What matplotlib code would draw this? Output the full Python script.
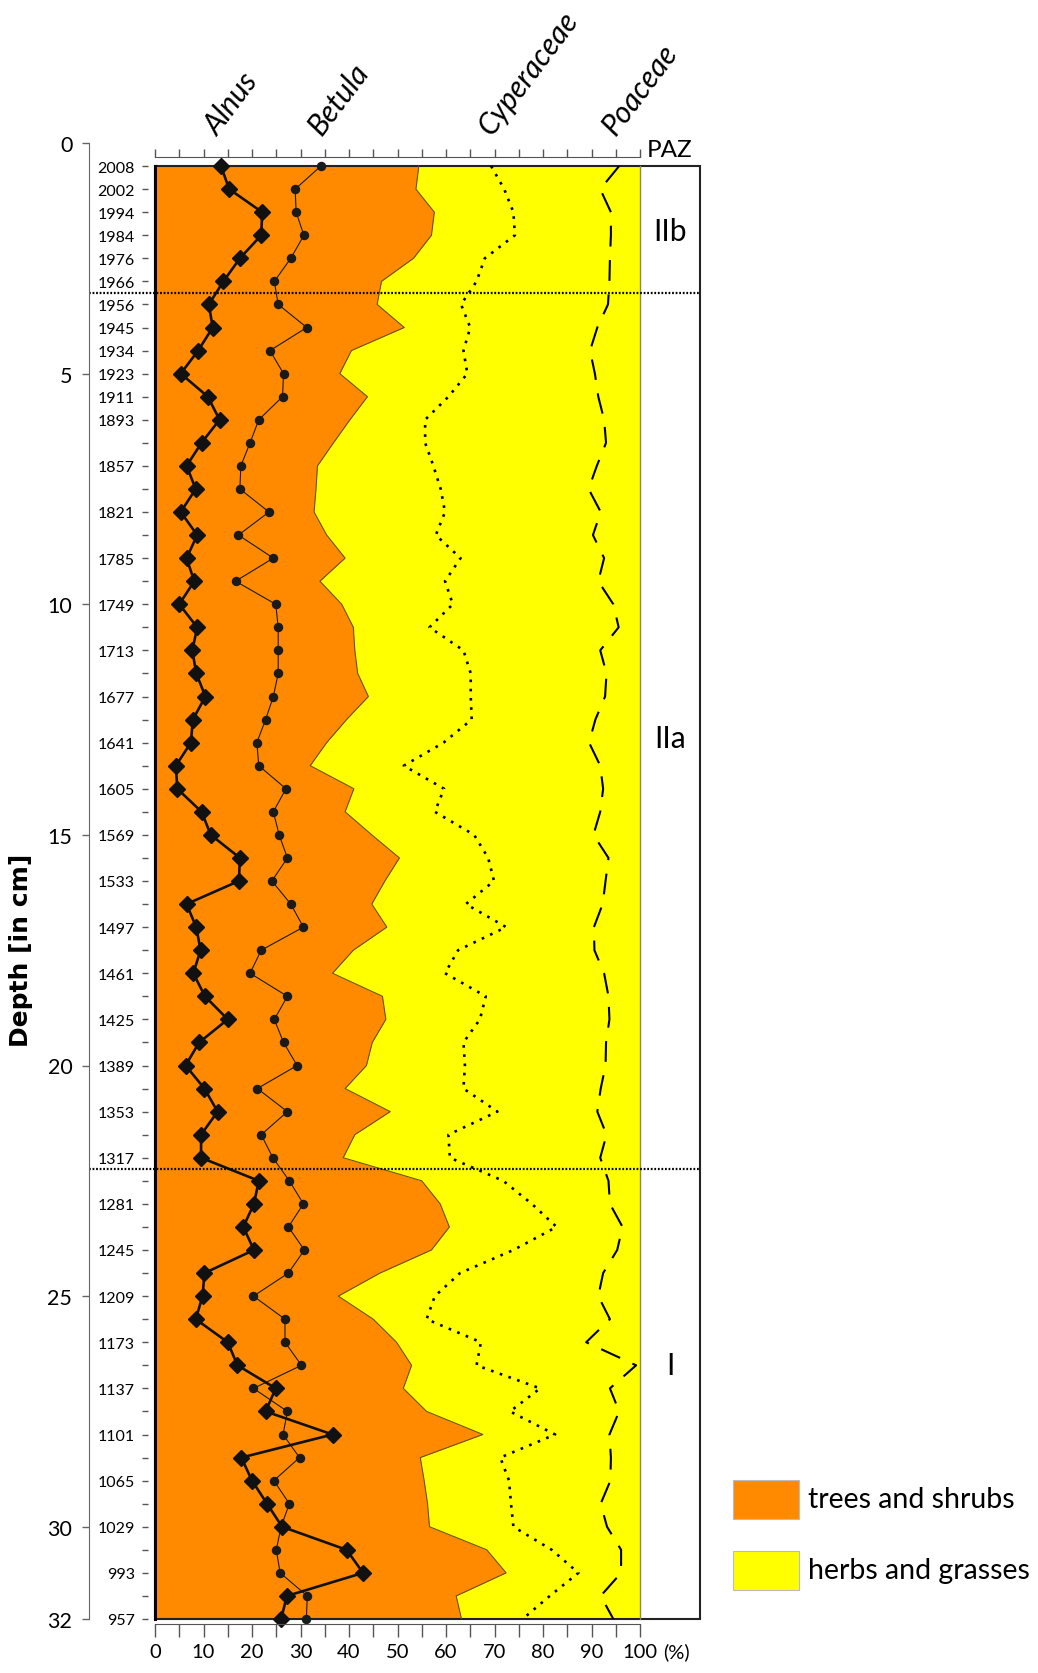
import numpy as np
import matplotlib.pyplot as plt
from matplotlib.patches import Rectangle

plt.rcParams['font.family'] = ['Lato', 'DejaVu Sans']

# sample depths (cm)
depth = [0.5, 1.0, 1.5, 2.0, 2.5, 3.0, 3.5, 4.0, 4.5, 5.0, 5.5, 6.0,
         6.5, 7.0, 7.5, 8.0, 8.5, 9.0, 9.5, 10.0, 10.5, 11.0, 11.5, 12.0,
         12.5, 13.0, 13.5, 14.0, 14.5, 15.0, 15.5, 16.0, 16.5, 17.0, 17.5, 18.0,
         18.5, 19.0, 19.5, 20.0, 20.5, 21.0, 21.5, 22.0, 22.5, 23.0, 23.5, 24.0,
         24.5, 25.0, 25.5, 26.0, 26.5, 27.0, 27.5, 28.0, 28.5, 29.0, 29.5, 30.0,
         30.5, 31.0, 31.5, 32.0]

# dated levels
year_depth = [0.5, 1.0, 1.5, 2.0, 2.5, 3.0, 3.5, 4.0, 4.5, 5.0, 5.5, 6.0,
              7, 8, 9, 10, 11, 12, 13, 14, 15, 16, 17, 18, 19, 20, 21, 22,
              23, 24, 25, 26, 27, 28, 29, 30, 31, 32]
year_label = [2008, 2002, 1994, 1984, 1976, 1966, 1956, 1945, 1934, 1923, 1911, 1893,
              1857, 1821, 1785, 1749, 1713, 1677, 1641, 1605, 1569, 1533, 1497, 1461,
              1425, 1389, 1353, 1317, 1281, 1245, 1209, 1173, 1137, 1101, 1065, 1029,
              993, 957]

alnus = [13.6, 15.3, 22.1, 21.9, 17.5, 14.1, 11.1, 11.9, 8.9, 5.3, 10.9, 13.3,
         9.6, 6.5, 8.4, 5.3, 8.7, 6.5, 8.1, 5.0, 8.7, 7.7, 8.5, 10.4,
         7.8, 7.4, 4.3, 4.6, 9.6, 11.5, 17.5, 17.3, 6.5, 8.5, 9.4, 7.9,
         10.3, 15.0, 9.1, 6.3, 10.2, 12.9, 9.5, 9.5, 21.4, 20.4, 18.2, 20.4,
         10.2, 9.8, 8.4, 15.0, 17.0, 24.9, 22.8, 36.6, 17.8, 20.0, 23.1, 26.2,
         39.5, 42.9, 27.2, 26.0]

betula = [34.2, 28.9, 29.1, 30.7, 28.0, 24.6, 25.4, 31.3, 23.7, 26.5, 26.3, 21.4,
          19.6, 17.7, 17.5, 23.5, 17.2, 24.4, 16.6, 24.9, 25.4, 25.4, 25.4, 24.4,
          22.8, 21.0, 21.4, 27.0, 24.4, 25.6, 27.3, 24.1, 28.0, 30.6, 21.9, 19.6,
          27.3, 24.6, 26.5, 29.3, 21.1, 27.3, 21.9, 24.3, 27.7, 30.6, 27.5, 30.8,
          27.5, 20.3, 26.8, 26.8, 30.2, 20.3, 27.3, 26.4, 29.8, 24.5, 27.7, 26.0,
          25.0, 25.8, 31.4, 31.2]

# cumulative curves (%)
trees = [54.4, 53.8, 57.6, 57.0, 53.3, 46.7, 45.8, 51.4, 40.5, 38.1, 43.8, 40.2,
         36.8, 33.5, 33.2, 32.8, 35.4, 39.2, 34.0, 38.5, 40.9, 41.2, 41.8, 44.0,
         39.5, 35.4, 32.0, 41.0, 39.2, 44.7, 50.4, 47.4, 44.7, 47.8, 40.9, 36.6,
         46.9, 47.6, 44.8, 43.6, 39.2, 48.5, 41.2, 38.8, 55.0, 58.8, 60.7, 57.0,
         46.4, 37.8, 45.0, 49.8, 52.9, 51.2, 56.0, 67.6, 54.7, 55.5, 56.2, 56.6,
         68.4, 72.4, 62.1, 63.2]

cyperaceae = [69.3, 72.0, 73.9, 74.2, 68.0, 66.3, 63.1, 65.0, 63.6, 64.4, 60.5, 55.7,
              55.7, 57.4, 58.9, 59.8, 57.9, 63.0, 59.8, 61.4, 56.6, 63.6, 65.1, 65.1,
              65.3, 59.5, 51.3, 59.6, 57.7, 65.8, 68.7, 69.9, 64.1, 72.4, 62.5, 59.8,
              68.2, 67.0, 63.6, 63.9, 63.6, 70.6, 60.5, 60.8, 71.8, 77.7, 82.8, 73.9,
              62.9, 57.7, 56.0, 67.2, 66.3, 79.4, 73.2, 82.5, 71.2, 73.0, 73.4, 73.9,
              81.8, 87.3, 81.4, 75.8]

poaceae = [95.7, 91.8, 94.0, 94.0, 93.8, 93.7, 93.4, 91.2, 89.7, 90.7, 91.4, 92.6,
           93.0, 91.1, 89.4, 91.9, 90.3, 92.6, 91.4, 94.5, 95.6, 91.8, 93.1, 92.8,
           90.8, 89.5, 91.8, 92.4, 91.8, 90.4, 93.5, 92.9, 92.3, 90.5, 90.6, 92.6,
           93.5, 93.7, 93.0, 92.9, 91.9, 91.2, 93.1, 91.8, 93.5, 93.8, 96.4, 95.3,
           92.4, 91.4, 93.8, 88.9, 99.2, 93.8, 95.7, 93.7, 94.0, 93.9, 91.9, 93.2,
           96.1, 96.1, 91.9, 94.5]

zone_bounds = [3.25, 22.25]
zone_names = ['IIb', 'IIa', 'I']
zone_mid = [1.9, 12.9, 26.5]

taxa = ['Alnus', 'Betula', 'Cyperaceae', 'Poaceae']
taxa_x = [13.0, 34.3, 69.4, 95.0]

ORANGE = '#FF8A00'
YELLOW = '#FFFF00'

W, H = 1038, 1674
fig = plt.figure(figsize=(W / 100, H / 100), dpi=100)


def fx(px):
    return px / W


def fy(py):
    return 1 - py / H


y_top, y_bot = 144, 1620
x0, x100 = 155, 640
ax = fig.add_axes([fx(x0), fy(y_bot), (x100 - x0) / W, (y_bot - y_top) / H])
ax.set_xlim(0, 100)
ax.set_ylim(32, 0)
ax.patch.set_visible(False)
px_per_pct = (x100 - x0) / 100
paz_right = (700 - x0) / px_per_pct

# fills
ax.fill_betweenx(depth, 0, trees, color=ORANGE, lw=0)
ax.fill_betweenx(depth, trees, 100, color=YELLOW, lw=0)
ax.plot(trees, depth, color='#6b5200', lw=0.8)

# curves
ax.plot(cyperaceae, depth, color='black', lw=1.9, ls=(0, (1.0, 2.5)))
ax.plot(poaceae, depth, color='black', lw=1.5, ls=(0, (10, 6.5)))
ax.plot(betula, depth, color='#1a1a1a', lw=0.8, marker='o', ms=5.8, clip_on=False)
ax.plot(alnus, depth, color='#111111', lw=1.9, marker='D', ms=8.3, clip_on=False)

# frame + PAZ column
ax.add_patch(Rectangle((0, 0.5), paz_right, 31.5, fill=False, ec='#222222', lw=1.5,
                       clip_on=False))
ax.plot([0, 0], [0.5, 32], color='black', lw=2.2, clip_on=False)
ax.plot([100, 100], [0.5, 32], color='#888866', lw=1.0, clip_on=False)
for zb in zone_bounds:
    ax.plot([(89 - x0) / px_per_pct, paz_right], [zb, zb], color='black', lw=1.6,
            ls=(0, (0.8, 0.8)), clip_on=False)
paz_c = (100 + paz_right) / 2
for name, ym in zip(zone_names, zone_mid):
    ax.text(paz_c, ym, name, ha='center', va='center', fontsize=21.5)
ax.text(paz_c, 0.28, 'PAZ', ha='center', va='baseline', fontsize=17.5, clip_on=False)

# taxon names
for name, xv in zip(taxa, taxa_x):
    ax.text(xv, -0.15, name, rotation=53, rotation_mode='anchor', ha='left',
            va='baseline', style='italic', fontsize=21.5, clip_on=False)

# x axes
for s in ['top', 'right', 'left']:
    ax.spines[s].set_visible(False)
ax.spines['bottom'].set_position(('outward', 3.6))
ax.spines['bottom'].set_color('#555555')
ax.set_xticks(range(0, 101, 5))
ax.set_xticklabels([str(v) if v % 10 == 0 else '' for v in range(0, 101, 5)])
ax.tick_params(axis='x', length=9.5, width=1, color='#555555', labelsize=14.5, pad=4)
fig.text(fx(x0 + 104.8 * px_per_pct), fy(1643), '(%)', ha='left', va='top', fontsize=14.5)

top = ax.secondary_xaxis(1 - 0.3 / 32)
top.set_xticks(range(0, 101, 5))
top.tick_params(length=5.5, width=1, color='#555555', labeltop=False)
top.spines['top'].set_color('#555555')

# year axis
ax.set_yticks(depth)
lab = {d: str(y) for d, y in zip(year_depth, year_label)}
ax.set_yticklabels([lab.get(d, '') for d in depth])
ax.spines['left'].set_position(('outward', 5))
ax.tick_params(axis='y', length=4.5, width=1, color='#555555', labelsize=11.5, pad=5)

# depth axis
axd = fig.add_axes([fx(89), fy(y_bot), 0.0001, (y_bot - y_top) / H])
axd.set_ylim(32, 0)
axd.patch.set_visible(False)
for s in ['top', 'right', 'bottom']:
    axd.spines[s].set_visible(False)
axd.spines['left'].set_color('#666666')
axd.set_xticks([])
axd.set_yticks([0, 5, 10, 15, 20, 25, 30, 32])
axd.tick_params(axis='y', length=5, width=1, color='#666666', labelsize=15.5, pad=7)

fig.text(fx(21), fy(950), 'Depth [in cm]', rotation=90, ha='center', va='center',
         fontsize=18, fontweight='bold', family='DejaVu Sans')

# legend
for (yt, yb), col, txt in [((1481, 1520), ORANGE, 'trees and shrubs'),
                           ((1552, 1591), YELLOW, 'herbs and grasses')]:
    fig.patches.append(Rectangle((fx(733), fy(yb)), 66 / W, (yb - yt) / H,
                                 transform=fig.transFigure, fc=col, ec='#bbbbbb', lw=0.8))
    fig.text(fx(808), fy((yt + yb) / 2), txt, ha='left', va='center', fontsize=20.5)

fig.savefig('out.png', dpi=100)
